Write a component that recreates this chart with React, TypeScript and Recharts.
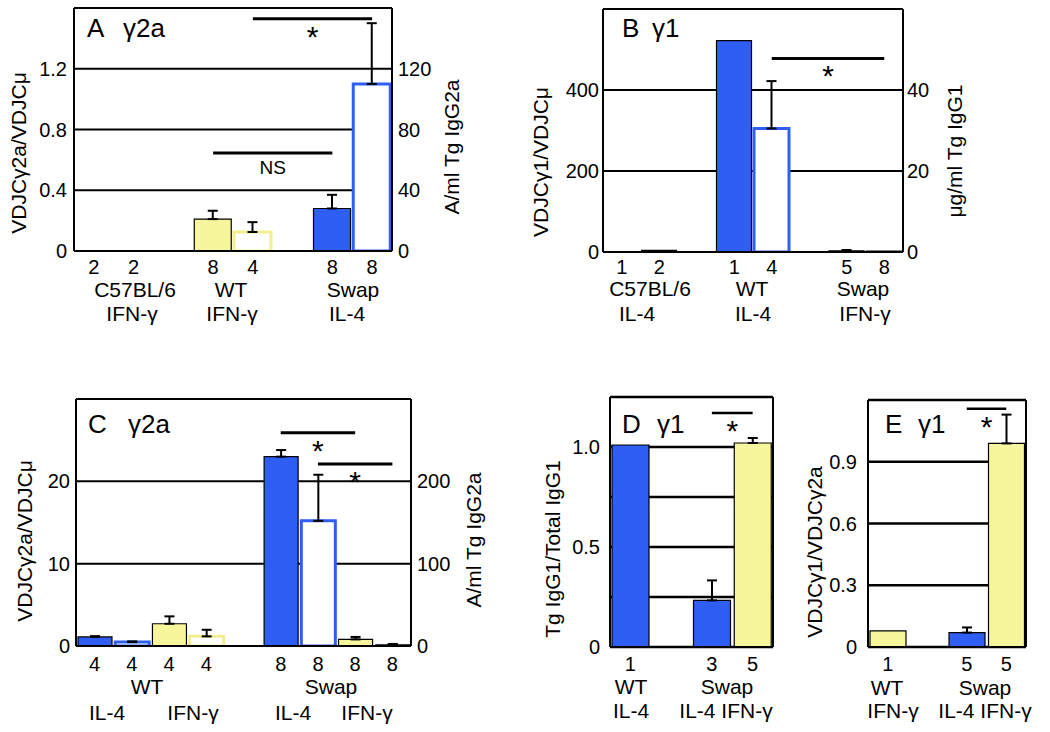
import React from "react";
import { BarChart, Bar, XAxis, YAxis, CartesianGrid, ErrorBar, Cell, ReferenceLine } from "recharts";

const BLUE = "#2e5ff2";
const YELLOW = "#f8f69c";
const YELLOW_EDGE = "#f4ef8e";
const FONT = '"Liberation Sans", Arial, Helvetica, sans-serif';

// "solid" bars = transcript ratio (left axis), "open" bars = Tg Ig protein (right axis)

// A  γ2a
const aCounts = ["2", "2", "", "8", "4", "", "8", "8"];
const aCyto = ["ifn", "ifn", "", "ifn", "ifn", "", "il4", "il4"];
const aKind = ["solid", "open", "", "solid", "open", "", "solid", "open"];
const aValues = [0, 0, null, 0.21, 12.5, null, 0.28, 110];
const aErrors = [0, 0, 0, 0.055, 6.5, 0, 0.09, 40];
const aLeftTicks = [0, 0.4, 0.8, 1.2];
const aLeftLabels = ["0", "0.4", "0.8", "1.2"];
const aRightTicks = [0, 40, 80, 120];
const aSig = [
  { from: 4, to: 7, y: 1.53, text: "*" },
  { from: 3, to: 6, y: 0.646, text: "NS" },
];

// B  γ1
const bCounts = ["1", "2", "", "1", "4", "", "5", "8"];
const bCyto = ["il4", "il4", "", "il4", "il4", "", "ifn", "ifn"];
const bKind = ["solid", "solid", "", "solid", "open", "", "solid", "solid"];
const bValues = [0, 4, null, 522, 30.5, null, 3, 2];
const bErrors = [0, 0, 0, 0, 11.7, 0, 2, 0];
const bLeftTicks = [0, 200, 400];
const bLeftLabels = ["0", "200", "400"];
const bRightTicks = [0, 20, 40];
const bSig = [{ from: 4, to: 7, y: 478, text: "*" }];

// C  γ2a
const cCounts = ["4", "4", "4", "4", "", "8", "8", "8", "8"];
const cCyto = ["il4", "il4", "ifn", "ifn", "", "il4", "il4", "ifn", "ifn"];
const cKind = ["solid", "open", "solid", "open", "", "solid", "open", "solid", "solid"];
const cValues = [1.1, 4.8, 2.7, 11.7, null, 23.0, 152, 0.8, 0.15];
const cErrors = [0.1, 0.8, 0.9, 8, 0, 0.8, 56, 0.3, 0.1];
const cLeftTicks = [0, 10, 20];
const cLeftLabels = ["0", "10", "20"];
const cRightTicks = [0, 100, 200];
const cSig = [
  { from: 5, to: 7, y: 25.9, text: "*" },
  { from: 6, to: 8, y: 22.1, text: "*" },
];

// D  γ1
const dCounts = ["1", "", "3", "5"];
const dCyto = ["il4", "", "il4", "ifn"];
const dKind = ["solid", "", "solid", "solid"];
const dValues = [1.01, null, 0.233, 1.02];
const dErrors = [0, 0, 0.1, 0.025];
const dLeftTicks = [0, 0.25, 0.5, 0.75, 1];
const dLeftLabels = ["0", "", "0.5", "", "1.0"];
const dSig = [{ from: 2, to: 3, y: 1.17, text: "*" }];

// E  γ1
const eCounts = ["1", "", "5", "5"];
const eCyto = ["ifn", "", "il4", "ifn"];
const eKind = ["solid", "", "solid", "solid"];
const eValues = [0.078, null, 0.07, 0.989];
const eErrors = [0, 0, 0.025, 0.14];
const eLeftTicks = [0, 0.3, 0.6, 0.9];
const eLeftLabels = ["0", "0.3", "0.6", "0.9"];
const eSig = [{ from: 2, to: 3, y: 1.158, text: "*" }];

type Row = {
  id: string;
  n: string;
  cyto: string;
  solid: number | null;
  open: number | null;
  solidErr?: number[];
  openErr?: number[];
};

function rowsOf(counts: string[], cyto: string[], kind: string[], values: (number | null)[], errors: number[]): Row[] {
  return counts.map((n, i) => {
    const k = kind[i];
    const v = values[i];
    const e = errors[i];
    return {
      id: "s" + i,
      n,
      cyto: cyto[i],
      solid: k === "solid" ? v : null,
      open: k === "open" ? v : null,
      solidErr: k === "solid" && e > 0 ? [0, e] : undefined,
      openErr: k === "open" && e > 0 ? [0, e] : undefined,
    };
  });
}

type Sig = { from: number; to: number; y: number; text: string };

type PanelProps = {
  rows: Row[];
  x: number;
  y: number;
  w: number;
  h: number;
  margin: { top: number; right: number; bottom: number; left: number };
  leftW: number;
  rightW: number;
  leftDomain: number[];
  leftTicks: number[];
  leftLabels: string[];
  rightDomain?: number[];
  rightTicks?: number[];
  leftGap: number;
  rightGap: number;
  xGap: number;
  barSize: number;
  gridW: number;
  sigW: number;
  sig: Sig[];
};

const sigLabel = (text: string) => (props: any) => {
  const vb = props.viewBox || {};
  const cx = (vb.x ?? 0) + (vb.width ?? 0) / 2;
  const star = text === "*";
  return (
    <text x={cx} y={(vb.y ?? 0) + (star ? 28 : 21)} textAnchor="middle" fontSize={star ? 30 : 19} fill="#000" fontFamily={FONT}>
      {text}
    </text>
  );
};

function Panel(p: PanelProps) {
  const hasOpen = p.rows.some((r) => r.open !== null);
  const frame = { stroke: "#000", strokeWidth: 2 };
  const tickStyle = { fill: "#000", fontSize: 20 };
  return (
    <div style={{ position: "absolute", left: p.x, top: p.y }}>
      <BarChart width={p.w} height={p.h} data={p.rows} margin={p.margin} barGap={-p.barSize}>
        <CartesianGrid yAxisId="l" vertical={false} stroke="#000" strokeWidth={p.gridW} />
        <XAxis
          dataKey="id"
          interval={0}
          tickLine={false}
          tickSize={0}
          tickMargin={p.xGap}
          height={30}
          axisLine={frame}
          tick={tickStyle}
          tickFormatter={(v) => p.rows[Number(String(v).slice(1))].n}
        />
        <XAxis xAxisId="top" dataKey="id" orientation="top" height={0} tick={false} tickLine={false} axisLine={frame} />
        <YAxis
          yAxisId="l"
          width={p.leftW}
          domain={p.leftDomain}
          ticks={p.leftTicks}
          interval={0}
          tickFormatter={(v) => p.leftLabels[p.leftTicks.indexOf(v)]}
          tickLine={false}
          tickSize={0}
          tickMargin={p.leftGap}
          axisLine={frame}
          tick={tickStyle}
          allowDataOverflow
        />
        <YAxis
          yAxisId="r"
          orientation="right"
          width={p.rightW}
          domain={p.rightDomain ?? p.leftDomain}
          ticks={p.rightTicks}
          interval={0}
          tick={p.rightTicks ? tickStyle : false}
          tickLine={false}
          tickSize={0}
          tickMargin={p.rightGap}
          axisLine={frame}
          allowDataOverflow
        />
        <Bar yAxisId="l" dataKey="solid" barSize={p.barSize} isAnimationActive={false}>
          {p.rows.map((r) => (
            <Cell key={r.id} fill={r.cyto === "il4" ? BLUE : YELLOW} stroke="#000" strokeWidth={1.2} />
          ))}
          <ErrorBar dataKey="solidErr" width={5} stroke="#000" strokeWidth={2} />
        </Bar>
        {hasOpen && (
          <Bar yAxisId="r" dataKey="open" barSize={p.barSize} isAnimationActive={false}>
            {p.rows.map((r) => (
              <Cell key={r.id} fill="#fff" stroke={r.cyto === "il4" ? BLUE : YELLOW_EDGE} strokeWidth={3} />
            ))}
            <ErrorBar dataKey="openErr" width={5} stroke="#000" strokeWidth={2} />
          </Bar>
        )}
        {p.sig.map((s, i) => (
          <ReferenceLine
            key={i}
            yAxisId="l"
            segment={[
              { x: "s" + s.from, y: s.y },
              { x: "s" + s.to, y: s.y },
            ]}
            stroke="#000"
            strokeWidth={p.sigW}
            label={sigLabel(s.text)}
          />
        ))}
      </BarChart>
    </div>
  );
}

const titles = [
  { letter: "A", greek: "γ2a", x: 87, gx: 123, y: 37 },
  { letter: "B", greek: "γ1", x: 622, gx: 652, y: 37 },
  { letter: "C", greek: "γ2a", x: 88, gx: 128, y: 433 },
  { letter: "D", greek: "γ1", x: 622, gx: 657, y: 433 },
  { letter: "E", greek: "γ1", x: 885, gx: 918, y: 433 },
];

const groupLabels: [number, number, string][] = [
  [135, 297, "C57BL/6"], [231, 297, "WT"], [353, 297, "Swap"],
  [132, 321, "IFN-γ"], [232, 321, "IFN-γ"], [347, 321, "IL-4"],
  [650, 296, "C57BL/6"], [752, 296, "WT"], [863, 296, "Swap"],
  [637, 321, "IL-4"], [753, 321, "IL-4"], [865, 321, "IFN-γ"],
  [147, 694, "WT"], [331, 694, "Swap"],
  [107, 720, "IL-4"], [193, 720, "IFN-γ"], [293, 720, "IL-4"], [367, 720, "IFN-γ"],
  [631, 694, "WT"], [727, 694, "Swap"], [631, 718, "IL-4"], [726, 718, "IL-4 IFN-γ"],
  [887, 695, "WT"], [985, 695, "Swap"], [893, 718, "IFN-γ"], [985, 718, "IL-4 IFN-γ"],
];

const axisTitles: [number, number, string][] = [
  [19, 153, "VDJCγ2a/VDJCμ"], [452, 147, "A/ml Tg IgG2a"],
  [541, 162, "VDJCγ1/VDJCμ"], [955, 151, "μg/ml Tg IgG1"],
  [25, 541, "VDJCγ2a/VDJCμ"], [474, 540, "A/ml Tg IgG2a"],
  [553, 549, "Tg IgG1/Total IgG1"],
  [815, 552, "VDJCγ1/VDJCγ2a"],
];

export default function App() {
  return (
    <div style={{ position: "absolute", left: 0, top: 0, width: 1050, height: 732, background: "#fff", fontFamily: FONT, overflow: "hidden" }}>
      <Panel
        rows={rowsOf(aCounts, aCyto, aKind, aValues, aErrors)}
        x={0} y={0} w={490} h={340}
        margin={{ top: 8, right: 48, bottom: 59, left: 29 }}
        leftW={45} rightW={50}
        leftDomain={[0, 1.6]} leftTicks={aLeftTicks} leftLabels={aLeftLabels}
        rightDomain={[0, 160]} rightTicks={aRightTicks}
        leftGap={7} rightGap={6} xGap={9}
        barSize={37} gridW={2} sigW={3} sig={aSig}
      />
      <Panel
        rows={rowsOf(bCounts, bCyto, bKind, bValues, bErrors)}
        x={500} y={0} w={520} h={340}
        margin={{ top: 9, right: 67, bottom: 58, left: 53 }}
        leftW={50} rightW={50}
        leftDomain={[0, 600]} leftTicks={bLeftTicks} leftLabels={bLeftLabels}
        rightDomain={[0, 60]} rightTicks={bRightTicks}
        leftGap={4} rightGap={4} xGap={8}
        barSize={35} gridW={2} sigW={3} sig={bSig}
      />
      <Panel
        rows={rowsOf(cCounts, cCyto, cKind, cValues, cErrors)}
        x={0} y={360} w={490} h={372}
        margin={{ top: 39, right: 29, bottom: 56, left: 31 }}
        leftW={45} rightW={50}
        leftDomain={[0, 30]} leftTicks={cLeftTicks} leftLabels={cLeftLabels}
        rightDomain={[0, 300]} rightTicks={cRightTicks}
        leftGap={6} rightGap={6} xGap={11}
        barSize={34} gridW={2} sigW={3} sig={cSig}
      />
      <Panel
        rows={rowsOf(dCounts, dCyto, dKind, dValues, dErrors)}
        x={540} y={360} w={250} h={372}
        margin={{ top: 37, right: 15, bottom: 55, left: 25 }}
        leftW={45} rightW={2}
        leftDomain={[0, 1.25]} leftTicks={dLeftTicks} leftLabels={dLeftLabels}
        leftGap={10} rightGap={4} xGap={10}
        barSize={37} gridW={2.4} sigW={2.5} sig={dSig}
      />
      <Panel
        rows={rowsOf(eCounts, eCyto, eKind, eValues, eErrors)}
        x={800} y={360} w={250} h={372}
        margin={{ top: 40, right: 22, bottom: 55, left: 23 }}
        leftW={45} rightW={2}
        leftDomain={[0, 1.2]} leftTicks={eLeftTicks} leftLabels={eLeftLabels}
        leftGap={11} rightGap={4} xGap={10}
        barSize={36} gridW={2.4} sigW={2.5} sig={eSig}
      />
      <svg width={1050} height={732} style={{ position: "absolute", left: 0, top: 0, pointerEvents: "none" }} fontFamily={FONT}>
        {titles.map((t) => (
          <g key={t.letter}>
            <text x={t.x} y={t.y} fontSize={26} fill="#000">{t.letter}</text>
            <text x={t.gx} y={t.y} fontSize={26} fill="#000">{t.greek}</text>
          </g>
        ))}
        {groupLabels.map(([x, y, s], i) => (
          <text key={i} x={x} y={y} fontSize={21} textAnchor="middle" fill="#000">{s}</text>
        ))}
        {axisTitles.map(([x, y, s], i) => (
          <text key={i} transform={`translate(${x},${y}) rotate(-90)`} dy="0.35em" fontSize={21} textAnchor="middle" fill="#000">{s}</text>
        ))}
      </svg>
    </div>
  );
}
